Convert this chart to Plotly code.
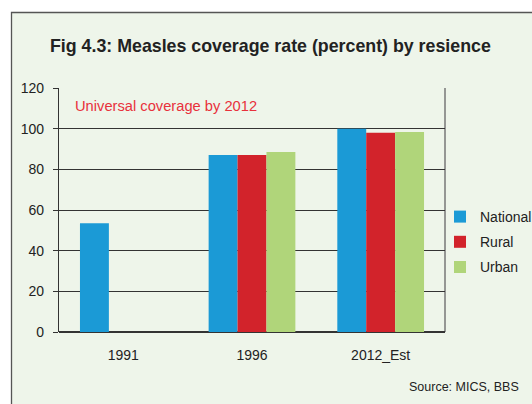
import plotly.graph_objects as go

# Measles coverage rate (percent) by residence
years = ["1991", "1996", "2012_Est"]
national = [53.5, 87.1, 100]
rural = [None, 87.1, 98]
urban = [None, 88.5, 98.4]

series_names = ["National", "Rural", "Urban"]
series_colors = ["#1b9ad6", "#d2232b", "#b0d57a"]
y_ticks = [0, 20, 40, 60, 80, 100, 120]

FONT = "Liberation Sans"
BG = "#eef5ea"

fig = go.Figure()
for name, vals, col in zip(series_names, [national, rural, urban], series_colors):
    fig.add_trace(go.Bar(
        x=years, y=vals, name=name, marker_color=col,
        marker_line_width=0, legendgroup=name,
    ))

# plot area in pixels: x 59..445, y 88..332
L, R, T, B = 59, 87, 88, 72
W, H = 532, 404
pw, ph = W - L - R, H - T - B


def px_x(x):
    return (x - L) / pw


def px_y(y):
    return (H - B - y) / ph


fig.update_layout(
    width=W, height=H,
    margin=dict(l=L, r=R, t=T, b=B, pad=0, autoexpand=False),
    paper_bgcolor="white",
    plot_bgcolor="rgba(0,0,0,0)",
    barmode="group",
    bargap=0.326,
    bargroupgap=0,
    font=dict(family=FONT, color="#222222", size=14),
    showlegend=True,
    legend=dict(
        x=px_x(440), y=px_y(201), xanchor="left", yanchor="top",
        bgcolor="rgba(0,0,0,0)", font=dict(size=14, color="#222222"),
        traceorder="grouped", tracegroupgap=4,
    ),
    xaxis=dict(
        showline=False, showgrid=False, ticks="",
        tickfont=dict(size=14), fixedrange=True, automargin=False,
        ticklabelstandoff=13,
    ),
    yaxis=dict(
        range=[0, 120], tickvals=y_ticks, ticktext=[str(v) for v in y_ticks],
        showgrid=True, gridcolor="#333333", gridwidth=1.4,
        zeroline=True, zerolinecolor="#333333", zerolinewidth=1.5,
        showline=True, linecolor="#333333", linewidth=1.3,
        ticks="outside", ticklen=5, tickcolor="#333333", tickwidth=1.3,
        tickfont=dict(size=14), ticklabelstandoff=6, automargin=False,
    ),
    shapes=[
        dict(
            type="rect", xref="paper", yref="paper", layer="below",
            x0=px_x(11.5), x1=px_x(560), y0=px_y(430), y1=px_y(12.5),
            fillcolor=BG, line=dict(color="#555555", width=1.3),
        ),
        dict(
            type="line", xref="paper", yref="paper", layer="below",
            x0=1, x1=1, y0=0, y1=1,
            line=dict(color="#777777", width=1.5),
        ),
    ],
    annotations=[
        dict(
            text="<b>Fig 4.3: Measles coverage rate (percent) by resience</b>",
            xref="paper", yref="paper", x=px_x(270), y=px_y(46),
            xanchor="center", yanchor="middle", showarrow=False,
            font=dict(size=17.8, color="#222222"),
        ),
        dict(
            text="Universal coverage by 2012",
            xref="paper", yref="paper", x=px_x(73), y=px_y(106),
            xanchor="left", yanchor="middle", showarrow=False,
            font=dict(size=14.7, color="#e8313c"),
        ),
        dict(
            text="Source: MICS, BBS",
            xref="paper", yref="paper", x=px_x(407), y=px_y(387),
            xanchor="left", yanchor="middle", showarrow=False,
            font=dict(size=12.5, color="#222222"),
        ),
    ],
)

fig.write_html("out.html")
